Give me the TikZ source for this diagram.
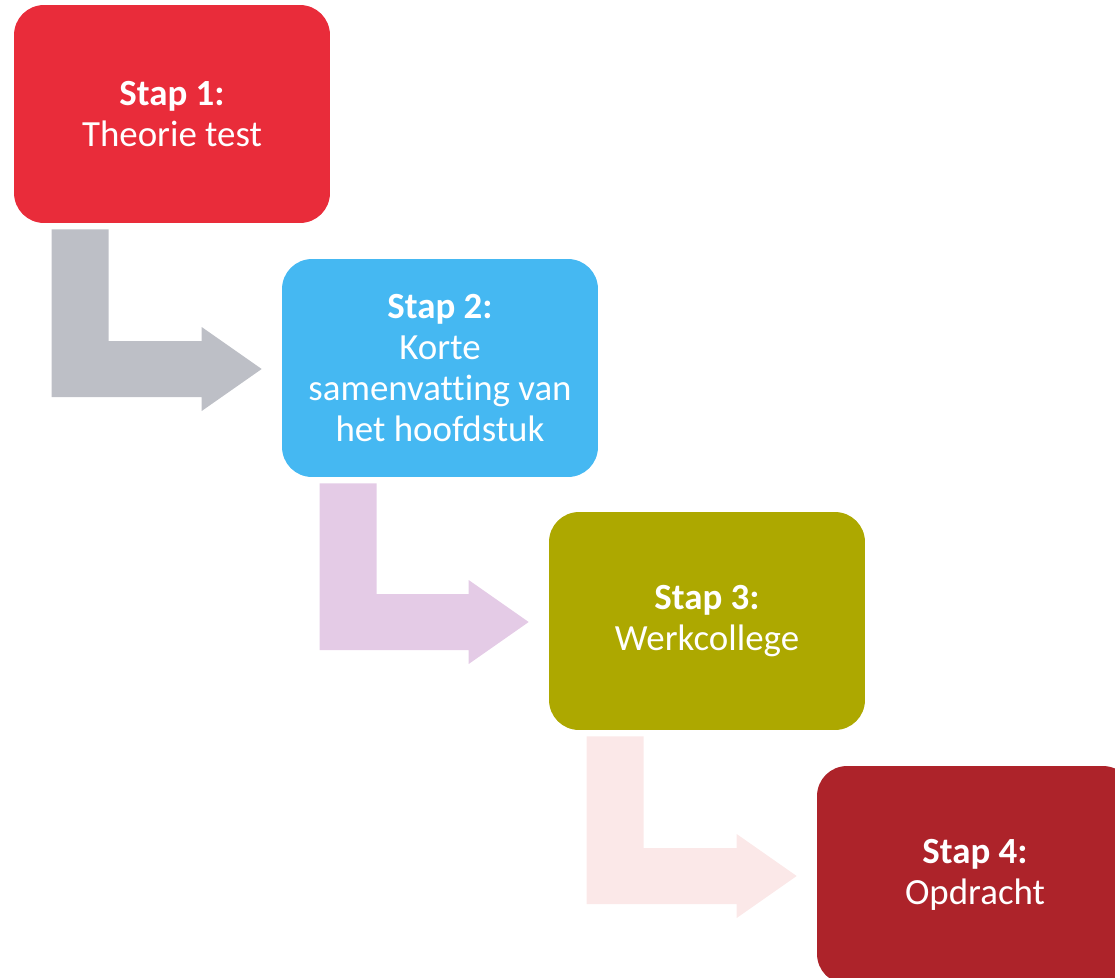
\documentclass[tikz,border=0pt]{standalone}
\usepackage{fontspec}
\setmainfont{Carlito}[Ligatures=NoCommon]
\usepackage{xcolor}
\usetikzlibrary{calc}

\definecolor{stapred}{RGB}{233,44,58}
\definecolor{stapblue}{RGB}{69,184,242}
\definecolor{stapolive}{RGB}{173,168,0}
\definecolor{stapdark}{RGB}{173,35,42}
\definecolor{arrowgray}{RGB}{189,191,198}
\definecolor{arrowpink}{RGB}{228,203,230}
\definecolor{arrowrose}{RGB}{251,232,232}

\tikzset{
	stapbox/.style={rounded corners=0.6cm, minimum width=6.32cm, minimum height=4.36cm,
		text=white, align=center, inner sep=0pt,
		font=\fontsize{21}{23.5}\selectfont},
}

\begin{document}
\begin{tikzpicture}[x=0.02cm,y=-0.02cm]
				\useasboundingbox (0,0) rectangle (1115,977);
				\clip (0,0) rectangle (1115,977);

				\node[stapbox,fill=stapred] (stap1) at (172,114) {\textbf{Stap 1:}\\Theorie test};
				\node[stapbox,fill=stapblue] (stap2) at (440,368) {\textbf{Stap 2:}\\Korte\\samenvatting van\\het hoofdstuk};
				\node[stapbox,fill=stapolive] (stap3) at (707,621) {\textbf{Stap 3:}\\Werkcollege};
				\node[stapbox,fill=stapdark] (stap4) at (975,875) {\textbf{Stap 4:}\\Opdracht};

				% stap 1 -> stap 2
				\coordinate (s1) at ($(stap1.south west)+(38,6)$);
				\coordinate (t1) at ($(stap2.west)+(-20,1)$);
				\fill[arrowgray] (s1) -- ++(57,0) |- ($(t1)+(-60,-28)$) -- ++(0,-14) -- (t1)
					-- ++(-60,42) -- ++(0,-14) -| (s1) -- cycle;

				% stap 2 -> stap 3
				\coordinate (s2) at ($(stap2.south west)+(38,6)$);
				\coordinate (t2) at ($(stap3.west)+(-20,1)$);
				\fill[arrowpink] (s2) -- ++(57,0) |- ($(t2)+(-60,-28)$) -- ++(0,-14) -- (t2)
					-- ++(-60,42) -- ++(0,-14) -| (s2) -- cycle;

				% stap 3 -> stap 4
				\coordinate (s3) at ($(stap3.south west)+(38,6)$);
				\coordinate (t3) at ($(stap4.west)+(-20,1)$);
				\fill[arrowrose] (s3) -- ++(57,0) |- ($(t3)+(-60,-28)$) -- ++(0,-14) -- (t3)
					-- ++(-60,42) -- ++(0,-14) -| (s3) -- cycle;
			\end{tikzpicture}
\end{document}
